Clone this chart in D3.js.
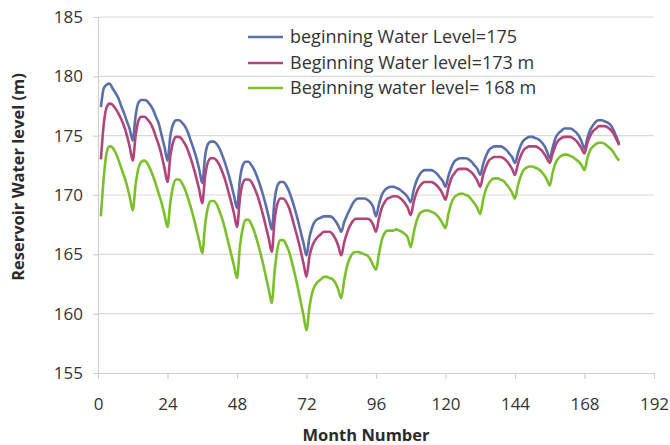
<!DOCTYPE html>
<html>
<head>
<meta charset="utf-8">
<script src="https://cdn.jsdelivr.net/npm/d3@7"></script>
<style>
  html, body { margin: 0; padding: 0; background: #fff; }
  svg { display: block; font-family: "Open Sans", Lato, sans-serif; }
</style>
</head>
<body>
<svg id="chart" width="670" height="445"></svg>
<script>
const seriesNames = [
  "beginning Water Level=175",
  "Beginning Water level=173 m",
  "Beginning water level= 168 m"
];
const seriesColors = ["#5a6fa9", "#b0457a", "#7cbf2c"];
const xTicks = [0, 24, 48, 72, 96, 120, 144, 168, 192];
const yTicks = [155, 160, 165, 170, 175, 180, 185];

const level175 = [
  177.4, 179.0, 179.3, 179.4, 179.0, 178.6, 178.2, 177.5, 176.9, 176.2, 175.5, 174.6,
  176.7, 177.8, 178.0, 178.0, 177.9, 177.6, 177.2, 176.6, 176.0, 175.0, 174.0, 172.9,
  175.0, 176.0, 176.3, 176.3, 176.1, 175.8, 175.3, 174.6, 173.9, 173.1, 172.1, 171.0,
  173.3, 174.3, 174.5, 174.5, 174.3, 173.9, 173.3, 172.6, 171.8, 170.9, 169.9, 168.9,
  171.3, 172.5, 172.8, 172.8, 172.5, 172.1, 171.5, 170.8, 170.0, 169.1, 168.1, 167.1,
  169.6, 170.8, 171.1, 171.1, 170.8, 170.3, 169.6, 168.8, 167.9, 166.9, 165.9, 164.9,
  166.4, 167.3, 167.8, 168.0, 168.1, 168.2, 168.2, 168.2, 168.1, 167.8, 167.4, 166.9,
  167.7, 168.3, 168.8, 169.3, 169.6, 169.7, 169.7, 169.7, 169.6, 169.4, 169.0, 168.2,
  169.2, 170.0, 170.4, 170.6, 170.7, 170.7, 170.6, 170.5, 170.3, 170.1, 169.8, 169.4,
  170.4, 171.2, 171.7, 172.0, 172.1, 172.1, 172.1, 172.0, 171.8, 171.5, 171.2, 170.7,
  171.6, 172.3, 172.8, 173.0, 173.1, 173.1, 173.1, 173.0, 172.8, 172.5, 172.2, 171.7,
  172.6, 173.3, 173.8, 174.0, 174.1, 174.1, 174.1, 174.0, 173.8, 173.5, 173.2, 172.7,
  173.5, 174.2, 174.6, 174.8, 174.9, 174.9, 174.8, 174.7, 174.5, 174.2, 173.7, 173.1,
  174.0, 174.8, 175.2, 175.4, 175.6, 175.6, 175.6, 175.5, 175.3, 175.0, 174.5, 173.9,
  174.8, 175.5, 175.9, 176.2, 176.3, 176.3, 176.2, 176.1, 175.9, 175.5, 174.9, 174.3
];
const level173 = [
  173.0, 176.0, 177.4, 177.7, 177.6, 177.3, 176.9, 176.4, 175.8, 175.0, 174.0, 172.9,
  175.0, 176.3, 176.6, 176.6, 176.4, 176.1, 175.6, 174.9, 174.2, 173.3, 172.2, 171.1,
  173.3, 174.5, 174.9, 174.9, 174.7, 174.3, 173.8, 173.1, 172.3, 171.4, 170.4, 169.3,
  171.6, 172.8, 173.1, 173.1, 172.9, 172.5, 171.9, 171.2, 170.3, 169.4, 168.4, 167.3,
  169.7, 171.0, 171.3, 171.3, 171.1, 170.6, 170.0, 169.2, 168.3, 167.3, 166.3, 165.2,
  167.9, 169.3, 169.7, 169.7, 169.4, 168.9, 168.1, 167.2, 166.3, 165.3, 164.2, 163.1,
  164.8, 165.7, 166.2, 166.5, 166.7, 166.9, 166.9, 166.9, 166.7, 166.3, 165.7, 164.9,
  166.0, 166.8, 167.4, 167.8, 168.0, 168.0, 168.0, 168.0, 168.0, 167.9, 167.5, 166.9,
  168.0, 168.9, 169.4, 169.7, 169.8, 169.9, 169.9, 169.8, 169.6, 169.3, 168.9, 168.3,
  169.4, 170.2, 170.7, 171.0, 171.1, 171.1, 171.1, 171.0, 170.8, 170.5, 170.1, 169.6,
  170.6, 171.4, 171.8, 172.1, 172.2, 172.2, 172.2, 172.1, 171.9, 171.6, 171.2, 170.7,
  171.7, 172.4, 172.9, 173.1, 173.2, 173.2, 173.2, 173.1, 172.9, 172.6, 172.2, 171.7,
  172.6, 173.3, 173.8, 174.0, 174.1, 174.1, 174.1, 174.0, 173.8, 173.5, 173.1, 172.7,
  173.5, 174.2, 174.6, 174.8, 174.9, 174.9, 174.9, 174.8, 174.6, 174.3, 173.9, 173.5,
  174.4, 175.0, 175.4, 175.6, 175.8, 175.8, 175.8, 175.7, 175.5, 175.2, 174.7, 174.2
];
const level168 = [
  168.2, 171.5, 173.6, 174.1, 174.0, 173.6, 173.0, 172.3, 171.6, 170.8, 169.8, 168.7,
  170.9, 172.3, 172.8, 172.9, 172.7, 172.2, 171.6, 170.9, 170.1, 169.3, 168.3, 167.3,
  169.4, 170.8, 171.3, 171.3, 171.0, 170.5, 169.8, 169.0, 168.1, 167.1, 166.1, 165.1,
  167.5, 169.0, 169.5, 169.5, 169.2, 168.6, 167.9, 167.0, 166.0, 165.0, 164.0, 163.0,
  165.6, 167.2, 167.9, 167.9, 167.5, 166.9, 166.1, 165.2, 164.2, 163.1, 162.0, 160.9,
  163.6, 165.5, 166.2, 166.2, 165.8, 165.2, 164.3, 163.3, 162.2, 161.0, 159.8, 158.6,
  160.5, 161.8, 162.4, 162.7, 162.9, 163.1, 163.1, 163.0, 162.9, 162.6, 162.0, 161.3,
  162.8, 164.0, 164.7, 165.1, 165.2, 165.2, 165.1, 165.0, 164.9, 164.6, 164.1, 163.7,
  165.0, 166.2, 166.8, 167.0, 167.0, 167.0, 167.1, 167.0, 166.9, 166.7, 166.4, 165.6,
  166.8, 167.8, 168.4, 168.6, 168.7, 168.7, 168.6, 168.5, 168.3, 168.0, 167.6, 167.2,
  168.4, 169.3, 169.8, 170.0, 170.1, 170.1, 170.0, 169.9, 169.6, 169.3, 168.9, 168.4,
  169.6, 170.5, 171.0, 171.3, 171.4, 171.4, 171.3, 171.2, 170.9, 170.6, 170.2, 169.7,
  170.8, 171.6, 172.1, 172.3, 172.4, 172.4, 172.3, 172.2, 172.0, 171.7, 171.3, 170.8,
  171.9, 172.7, 173.1, 173.3, 173.4, 173.4, 173.3, 173.2, 173.0, 172.8, 172.5, 172.1,
  173.1, 173.8, 174.1, 174.3, 174.4, 174.4, 174.3, 174.1, 173.9, 173.6, 173.2, 172.9
];
const allSeries = [level175, level173, level168];

const svg = d3.select("#chart");
const margin = { left: 98, right: 16, top: 17, bottom: 72 };
const W = 670, H = 445;
const FONT = "'Open Sans', Lato, sans-serif";

const x = d3.scaleLinear().domain([0, 192]).range([margin.left, W - margin.right]);
const y = d3.scaleLinear().domain([155, 185]).range([H - margin.bottom, margin.top]);

// horizontal gridlines
svg.append("g")
  .selectAll("line")
  .data(yTicks.filter(v => v !== 155))
  .join("line")
  .attr("x1", x(0)).attr("x2", x(192))
  .attr("y1", d => y(d)).attr("y2", d => y(d))
  .attr("stroke", "#d9d9d9").attr("stroke-width", 1.2);

// y axis
const yAxis = d3.axisLeft(y).tickValues(yTicks).tickSize(5).tickPadding(10).tickFormat(d3.format("d"));
const gy = svg.append("g").attr("transform", `translate(${x(0)},0)`).call(yAxis);
gy.select(".domain").attr("stroke", "#d0d0d0").attr("stroke-width", 1.2);
gy.selectAll(".tick line").attr("stroke", "#d0d0d0").attr("stroke-width", 1.2);
gy.selectAll(".tick text").attr("font-size", 17).attr("fill", "#333").attr("font-family", FONT);

// x axis
const xAxis = d3.axisBottom(x).tickValues(xTicks).tickSize(6).tickSizeOuter(0).tickPadding(19);
const gx = svg.append("g").attr("transform", `translate(0,${y(155)})`).call(xAxis);
gx.select(".domain").attr("stroke", "#d0d0d0").attr("stroke-width", 1.2);
gx.selectAll(".tick line").attr("stroke", "#d0d0d0").attr("stroke-width", 1.2);
gx.selectAll(".tick text").attr("font-size", 17).attr("fill", "#333").attr("font-family", FONT);

// lines
const line = d3.line()
  .x((d, i) => x(i + 1))
  .y(d => y(d))
  .curve(d3.curveMonotoneX);

svg.append("g")
  .selectAll("path")
  .data(allSeries)
  .join("path")
  .attr("d", d => line(d))
  .attr("fill", "none")
  .attr("stroke", (d, i) => seriesColors[i])
  .attr("stroke-width", 2.6)
  .attr("stroke-linejoin", "round");

// legend
const legend = svg.append("g");
const legY = [37, 63, 88];
seriesNames.forEach((name, i) => {
  legend.append("line")
    .attr("x1", 248).attr("x2", 283)
    .attr("y1", legY[i]).attr("y2", legY[i])
    .attr("stroke", seriesColors[i]).attr("stroke-width", 2.6);
  legend.append("text")
    .attr("x", 290).attr("y", legY[i])
    .attr("dy", "0.35em")
    .attr("font-size", 18)
    .attr("font-family", FONT)
    .attr("fill", "#333")
    .text(name);
});

// axis titles
svg.append("text")
  .attr("x", 366).attr("y", 441)
  .attr("text-anchor", "middle")
  .attr("font-family", FONT)
  .attr("font-size", 16.5).attr("font-weight", "bold").attr("fill", "#2b2b2b")
  .text("Month Number");

svg.append("text")
  .attr("transform", "translate(24,177) rotate(-90)")
  .attr("text-anchor", "middle")
  .attr("font-family", FONT)
  .attr("font-size", 16.5).attr("font-weight", "bold").attr("fill", "#2b2b2b")
  .text("Reservoir Water level (m)");
</script>
</body>
</html>
